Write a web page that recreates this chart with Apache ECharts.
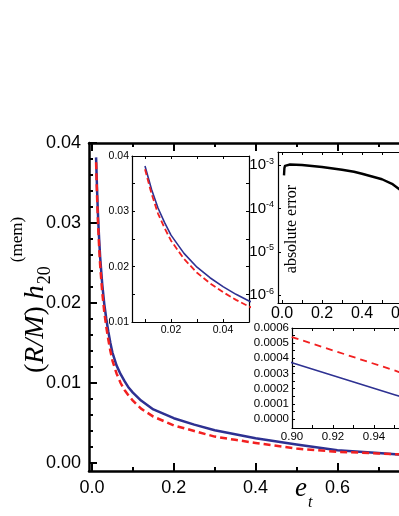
<!DOCTYPE html>
<html>
<head>
<meta charset="utf-8">
<script src="https://cdn.jsdelivr.net/npm/echarts@6.0.0/dist/echarts.min.js"></script>
<style>
html,body{margin:0;padding:0;background:#fff;overflow:hidden;width:399px;height:516px;}
#chart{width:540px;height:516px;}
</style>
</head>
<body>
<div id="chart"></div>
<script>
// ---- data ----
const eccentricity = [0.01,0.0125,0.015,0.0175,0.02,0.025,0.03,0.035,0.04,0.045,0.05,0.06,0.07,0.08,0.09,0.1,0.12,0.15,0.2,0.25,0.3,0.35,0.4,0.5,0.6,0.7,0.75,0.8,0.85,0.9,0.95,0.97,0.99];
const hExact  = [0.0382,0.0340,0.0306,0.0280,0.0257,0.0224,0.0199,0.0180,0.0164,0.0150,0.0138,0.0122,0.0111,0.0102,0.0094,0.0088,0.0078,0.0067,0.0056,0.0048,0.0041,0.0036,0.0031,0.0023,0.0016,0.00125,0.00105,0.00086,0.00063,0.00037,0.00016,0.00008,0.00002];
const hApprox = [0.0376,0.0332,0.0296,0.0270,0.0247,0.0214,0.0189,0.0170,0.0154,0.0140,0.0128,0.0112,0.0100,0.0091,0.0084,0.0078,0.0068,0.0058,0.0047,0.0040,0.0033,0.0029,0.0025,0.0018,0.0014,0.00120,0.00108,0.00095,0.00078,0.00054,0.00032,0.00022,0.00008];
const errEcc   = [0.01,0.012,0.015,0.02,0.04,0.1,0.2,0.3,0.36,0.4,0.5,0.55,0.6,0.65,0.7];
const absError = [5.8e-4,8.5e-4,9.6e-4,1.0e-3,1.03e-3,1.0e-3,9.0e-4,7.8e-4,7.0e-4,6.3e-4,4.7e-4,3.7e-4,2.5e-4,1.4e-4,5e-5];

const mainXLabels = [0,0.2,0.4,0.6,0.8,1.0];
const mainXMinor  = [0.1,0.3,0.5,0.7,0.9];
const mainYLabels = [0,0.01,0.02,0.03,0.04];
const mainYMinor  = [0.002,0.004,0.006,0.008,0.012,0.014,0.016,0.018,0.022,0.024,0.026,0.028,0.032,0.034,0.036,0.038];
const in1XLabels = [0.02,0.04];
const in1XTicks  = [0.01,0.02,0.03,0.04,0.05];
const in1YLabels = [0.01,0.02,0.03,0.04];
const in1YTicks  = [0.01,0.015,0.02,0.025,0.03,0.035,0.04];
const in2XLabels = [0,0.2,0.4,0.6,0.8,1.0];
const in2XTicks  = [0,0.1,0.2,0.3,0.4,0.5,0.6,0.7,0.8,0.9,1.0];
const in3XLabels = [0.90,0.92,0.94,0.96];
const in3XTicks  = [0.90,0.91,0.92,0.93,0.94,0.95,0.96];
const in3YLabels = [0,0.0001,0.0002,0.0003,0.0004,0.0005,0.0006];
const in3YTicks  = [0,0.00005,0.0001,0.00015,0.0002,0.00025,0.0003,0.00035,0.0004,0.00045,0.0005,0.00055,0.0006];

// ---- styles ----
const BLUE = '#2e3192', RED = '#f22020';
const SANS = '"Liberation Sans", Arial, sans-serif';
const SERIF = '"Liberation Serif", "Times New Roman", serif';

function ax(gi, o) {
  return {
    type: o.type || 'value', gridIndex: gi, min: o.min, max: o.max, position: o.pos,
    logBase: o.logBase,
    axisLine: {show: o.line !== false, onZero: false, lineStyle: {color: '#000', width: o.lw || 1.2}},
    axisTick: {show: !!o.ticks || !!o.autoTicks, inside: true, length: o.tl || 3, customValues: o.ticks,
               lineStyle: {color: '#000', width: o.tw || 1}},
    axisLabel: {show: !!o.labels || !!o.autoLabels, customValues: o.labels, formatter: o.fmt, fontSize: o.fs || 12,
                color: '#000', margin: o.margin || 4, fontFamily: SANS, rich: o.rich,
                showMinLabel: o.showMin, showMaxLabel: o.showMax},
    splitLine: {show: false}, minorTick: {show: false}
  };
}
const f1 = v => v.toFixed(1), f2 = v => v.toFixed(2), f4 = v => v.toFixed(4);

const xAxes = [
  ax(0, {min:-0.0073, max:1.0, pos:'bottom', lw:2.5, ticks:mainXLabels, tl:8, tw:2, labels:mainXLabels, fmt:f1, fs:18, margin:8}),
  ax(0, {min:-0.0073, max:1.0, pos:'bottom', line:false, ticks:mainXMinor, tl:4, tw:2}),
  ax(0, {min:-0.0073, max:1.0, pos:'top', lw:2.5, ticks:mainXLabels, tl:8, tw:2}),
  ax(0, {min:-0.0073, max:1.0, pos:'top', line:false, ticks:mainXMinor, tl:4, tw:2}),
  ax(1, {min:0.005, max:0.05, pos:'bottom', ticks:in1XTicks, labels:in1XLabels, fmt:f2, fs:10.5, margin:3}),
  ax(1, {min:0.005, max:0.05, pos:'top', ticks:in1XTicks}),
  ax(2, {min:-0.02, max:1.02, pos:'bottom', ticks:in2XTicks, labels:in2XLabels, fmt:f1, fs:16, margin:3}),
  ax(2, {min:-0.02, max:1.02, pos:'top', ticks:in2XTicks}),
  ax(3, {min:0.9, max:0.96, pos:'bottom', ticks:in3XTicks, labels:in3XLabels, fmt:f2, fs:11.5, margin:3}),
  ax(3, {min:0.9, max:0.96, pos:'top', ticks:in3XTicks})
];

const yAxes = [
  ax(0, {min:-0.001, max:0.04, pos:'left', lw:2.5, ticks:mainYLabels, tl:8, tw:2, labels:mainYLabels, fmt:f2, fs:18, margin:8}),
  ax(0, {min:-0.001, max:0.04, pos:'left', line:false, ticks:mainYMinor, tl:4, tw:2}),
  ax(1, {min:0.01, max:0.04, pos:'left', ticks:in1YTicks, labels:in1YLabels, fmt:f2, fs:10.5, margin:3}),
  ax(1, {min:0.01, max:0.04, pos:'right', ticks:in1YTicks}),
  ax(2, {type:'log', logBase:10, min:6.6e-7, max:2e-3, pos:'left', autoTicks:true, autoLabels:true,
         fmt: v => '{b|10}{s|' + Math.round(Math.log10(v)) + '}',
         rich:{b:{fontSize:15, fontFamily:SANS, color:'#000'}, s:{fontSize:9, fontFamily:SANS, color:'#000', verticalAlign:'top', padding:[0,0,8,0]}},
         showMin:false, showMax:false, margin:4}),
  ax(3, {min:-0.00006, max:0.0006, pos:'left', ticks:in3YTicks, labels:in3YLabels, fmt:f4, fs:11.5, margin:3})
];

const pairs = (xs, ys) => xs.map((x, i) => [x, ys[i]]);
function line(xi, yi, xs, ys, color, width, dashed) {
  return {type:'line', xAxisIndex:xi, yAxisIndex:yi, data:pairs(xs, ys), symbol:'none', smooth:false,
          clip:true, z:3,
          lineStyle:{color:color, width:width, type: dashed ? dashed : 'solid', join:'round'}};
}

const series = [
  line(0, 0, eccentricity, hExact, BLUE, 2.5),
  line(0, 0, eccentricity, hApprox, RED, 2.5, [7, 4]),
  line(4, 2, eccentricity, hExact, BLUE, 1.6),
  line(4, 2, eccentricity, hApprox, RED, 1.8, [6, 3]),
  line(6, 4, errEcc, absError, '#000', 2.4),
  line(8, 5, eccentricity, hExact, BLUE, 1.6),
  line(8, 5, eccentricity, hApprox, RED, 1.8, [7, 5])
];

// rotated y-axis title pieces
const ctx = document.createElement('canvas').getContext('2d');
function tw(t, f) { ctx.font = f; return ctx.measureText(t).width; }
const fsB = 28, fsSub = 18, fsSup = 17;
const wBase = tw('(', fsB + 'px ' + SERIF) + tw('R/M', 'italic ' + fsB + 'px ' + SERIF) +
              tw(') ', fsB + 'px ' + SERIF) + tw('h', 'italic ' + fsB + 'px ' + SERIF);
const wSub = tw('20', fsSub + 'px ' + SERIF);

const option = {
  animation: false,
  backgroundColor: '#fff',
  grid: [
    {left:89, top:143, width:412, height:328, show:false},
    {left:132, top:156, width:117, height:166, show:false},
    {left:278, top:152, width:208, height:151, show:false},
    {left:292, top:328, width:123, height:100, show:false}
  ],
  xAxis: xAxes,
  yAxis: yAxes,
  series: series,
  graphic: [
    {type:'group', x:36, y:373, rotation:Math.PI/2, children:[
      {type:'text', x:0, y:0, style:{text:'{n|(}{i|R/M}{n|) }{i|h}', verticalAlign:'middle', align:'left',
        rich:{n:{fontFamily:SERIF, fontSize:fsB, fill:'#000'}, i:{fontFamily:SERIF, fontSize:fsB, fontStyle:'italic', fill:'#000'}}}},
      {type:'text', x:wBase + 1, y:9, style:{text:'20', font: fsSub + 'px ' + SERIF, fill:'#000', verticalAlign:'middle', align:'left'}},
      {type:'text', x:wBase + wSub + 5, y:-18, style:{text:'(mem)', font: fsSup + 'px ' + SERIF, fill:'#000', verticalAlign:'middle', align:'left'}}
    ]},
    {type:'text', x:292, y:229, rotation:Math.PI/2, style:{text:'absolute error', font:'16px ' + SERIF, fill:'#000', verticalAlign:'middle', align:'center'}},
    {type:'text', x:295, y:489, style:{text:'e', font:'italic 27px ' + SERIF, fill:'#000', verticalAlign:'middle', align:'left'}},
    {type:'text', x:308, y:503, style:{text:'t', font:'italic 16px ' + SERIF, fill:'#000', verticalAlign:'middle', align:'left'}}
  ]
};

const chart = echarts.init(document.getElementById('chart'), null, {renderer:'canvas'});
chart.setOption(option);
</script>
</body>
</html>
